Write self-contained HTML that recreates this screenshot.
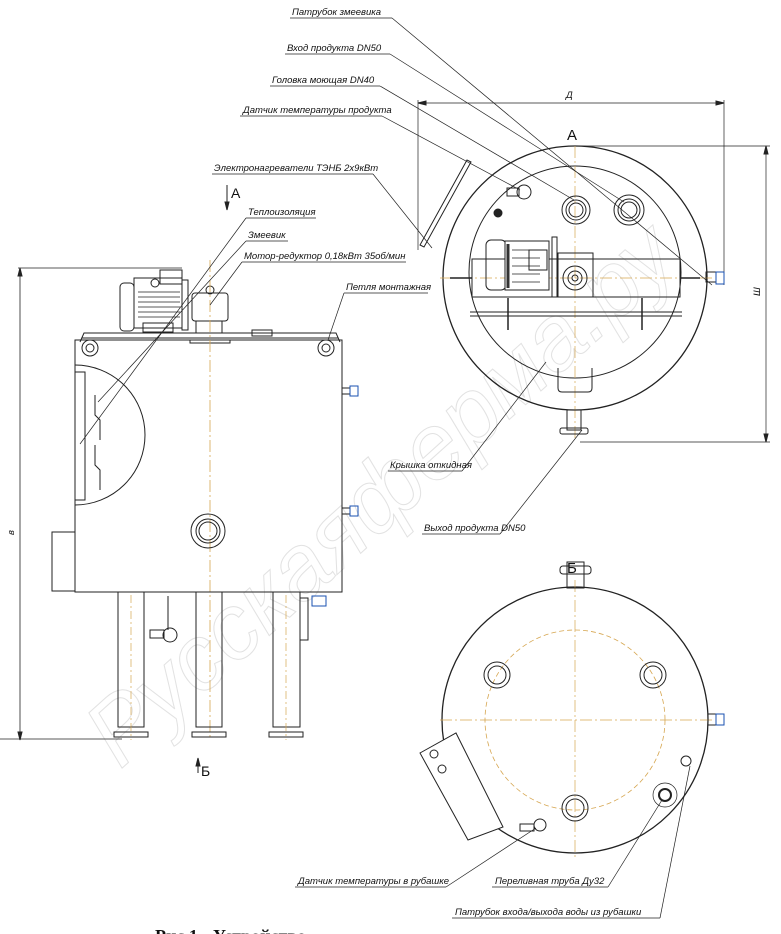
<!DOCTYPE html>
<html><head><meta charset="utf-8"><style>
html,body{margin:0;padding:0;background:#fff;}
svg{display:block;}
.l{font-family:"Liberation Sans",sans-serif;font-style:italic;font-size:9.5px;fill:#111;}
</style></head><body>
<svg width="781" height="934" viewBox="0 0 781 934" xmlns="http://www.w3.org/2000/svg" fill="none" stroke="#222" stroke-width="1">
<text x="120" y="770" transform="rotate(-42 120 770)" font-family="Liberation Sans,sans-serif" font-style="italic" font-size="92" stroke="#e2e2e2" stroke-width="1" fill="none">Русскаяферма.ру</text>

<line x1="20" y1="268" x2="20" y2="740" stroke-width="0.8"/>
<line x1="18" y1="268" x2="182" y2="268" stroke-width="0.7"/>
<line x1="0" y1="739" x2="122" y2="739" stroke-width="0.7"/>
<path d="M20 268 l-2 8 h4z M20 740 l-2 -8 h4z" fill="#222"/>
<text x="14" y="535" transform="rotate(-90 14 535)" class="l" stroke="none">в</text>

<rect x="75" y="340" width="267" height="252"/>
<path d="M80 342 L84 333 H336 L340 342" />
<line x1="82" y1="338" x2="338" y2="338"/>
<rect x="190" y="340" width="40" height="3"/>
<circle cx="90" cy="348" r="8"/><circle cx="90" cy="348" r="4"/>
<circle cx="326" cy="348" r="8"/><circle cx="326" cy="348" r="4"/>
<rect x="120" y="283" width="14" height="48" rx="4"/>
<rect x="134" y="278" width="48" height="50"/>
<g stroke-width="0.8"><line x1="138" y1="292" x2="180" y2="292"/><line x1="138" y1="297" x2="180" y2="297"/><line x1="138" y1="302" x2="180" y2="302"/><line x1="138" y1="307" x2="180" y2="307"/><line x1="138" y1="312" x2="180" y2="312"/><line x1="138" y1="317" x2="180" y2="317"/></g>
<rect x="160" y="270" width="22" height="14"/>
<circle cx="155" cy="283" r="4"/>
<rect x="182" y="280" width="6" height="50"/>
<rect x="192" y="293" width="36" height="28" rx="3"/>
<rect x="196" y="321" width="26" height="12"/>
<circle cx="210" cy="290" r="4"/>
<rect x="143" y="323" width="30" height="9"/>
<rect x="252" y="330" width="20" height="6"/>
<line x1="210" y1="260" x2="210" y2="740" stroke="#d6a650" stroke-dasharray="12 3 2 3" stroke-width="0.8"/>
<path d="M75 365 A70 70 0 0 1 75 505" />
<rect x="75" y="372" width="10" height="128"/>
<path d="M95 395 v20 l5 5 v20 M95 445 v20 l5 5 v20" />
<rect x="342" y="388" width="8" height="6"/><rect x="350" y="386" width="8" height="10" stroke="#1a50b0"/>
<rect x="342" y="508" width="8" height="6"/><rect x="350" y="506" width="8" height="10" stroke="#1a50b0"/>
<rect x="312" y="596" width="14" height="10" stroke="#1a50b0"/>
<circle cx="208" cy="531" r="17"/><circle cx="208" cy="531" r="12"/><circle cx="208" cy="531" r="9"/>
<rect x="52" y="532" width="23" height="59"/>
<rect x="118" y="592" width="26" height="135"/><rect x="114" y="732" width="34" height="5"/>
<rect x="196" y="592" width="26" height="135"/><rect x="192" y="732" width="34" height="5"/>
<rect x="273" y="592" width="27" height="135"/><rect x="269" y="732" width="34" height="5"/>
<g stroke="#d6a650" stroke-dasharray="8 3 2 3" stroke-width="0.7"><line x1="131" y1="595" x2="131" y2="740"/><line x1="286" y1="595" x2="286" y2="740"/></g>
<line x1="168" y1="596" x2="168" y2="630"/>
<circle cx="170" cy="635" r="7"/><rect x="150" y="630" width="14" height="8"/>
<rect x="300" y="598" width="8" height="42"/>
<line x1="227" y1="185" x2="227" y2="205"/><path d="M227 210 l-2 -8 h4z" fill="#222"/>
<text x="231" y="198" font-family="Liberation Sans,sans-serif" font-size="14" fill="#111" stroke="none">А</text>
<line x1="198" y1="773" x2="198" y2="762"/><path d="M198 758 l-2 8 h4z" fill="#222"/>
<text x="201" y="776" font-family="Liberation Sans,sans-serif" font-size="14" fill="#111" stroke="none">Б</text>

<line x1="418" y1="103" x2="724" y2="103" stroke-width="0.7"/>
<path d="M418 103 l8 -2 v4z M724 103 l-8 -2 v4z" fill="#222"/>
<line x1="418" y1="100" x2="418" y2="250" stroke-width="0.7"/>
<line x1="724" y1="100" x2="724" y2="285" stroke-width="0.7"/>
<text x="566" y="98" class="l" stroke="none">Д</text>
<line x1="766" y1="146" x2="766" y2="442" stroke-width="0.7"/>
<path d="M766 146 l-2 8 h4z M766 442 l-2 -8 h4z" fill="#222"/>
<line x1="580" y1="146" x2="770" y2="146" stroke-width="0.7"/>
<line x1="580" y1="442" x2="770" y2="442" stroke-width="0.7"/>
<text x="760" y="296" transform="rotate(-90 760 296)" class="l" stroke="none">Ш</text>
<text x="567" y="140" font-family="Liberation Sans,sans-serif" font-size="15" fill="#111" stroke="none">А</text>

<circle cx="575" cy="278" r="132" stroke-width="1.3"/>
<circle cx="575" cy="272" r="106"/>
<g stroke="#d6a650" stroke-dasharray="12 3 2 3" stroke-width="0.7"><line x1="575" y1="146" x2="575" y2="440"/><line x1="440" y1="278" x2="712" y2="278"/></g>
<rect x="472" y="259" width="208" height="38"/>
<line x1="470" y1="312" x2="682" y2="312"/><line x1="470" y1="316" x2="682" y2="316"/>
<line x1="508" y1="298" x2="508" y2="330" stroke-width="1.5"/><line x1="642" y1="298" x2="642" y2="330" stroke-width="1.5"/>
<rect x="486" y="240" width="20" height="50" rx="5"/>
<rect x="505" y="241" width="44" height="49" fill="#fff"/>
<line x1="508" y1="244" x2="508" y2="288" stroke="#333" stroke-width="3"/>
<g stroke-width="0.8"><line x1="512" y1="250" x2="540" y2="250"/><line x1="512" y1="258" x2="540" y2="258"/><line x1="512" y1="266" x2="540" y2="266"/><line x1="512" y1="274" x2="540" y2="274"/><line x1="512" y1="282" x2="540" y2="282"/></g>
<rect x="529" y="250" width="18" height="20"/>
<rect x="552" y="237" width="5" height="60"/>
<rect x="558" y="253" width="35" height="44"/>
<circle cx="575" cy="278" r="12"/><circle cx="575" cy="278" r="7"/><circle cx="575" cy="278" r="3"/>
<line x1="450" y1="278" x2="472" y2="278" stroke-width="1.5"/><line x1="680" y1="278" x2="700" y2="278" stroke-width="1.5"/>
<circle cx="576" cy="210" r="14"/><circle cx="576" cy="210" r="10"/><circle cx="576" cy="210" r="7"/>
<circle cx="629" cy="210" r="15"/><circle cx="629" cy="210" r="11"/><circle cx="629" cy="210" r="8"/>
<circle cx="524" cy="192" r="7"/><rect x="507" y="188" width="12" height="8"/>
<circle cx="498" cy="213" r="4" fill="#222"/>
<path d="M467 160 L420 245 L424 247 L471 162 z"/>
<rect x="706" y="272" width="10" height="10"/><rect x="716" y="272" width="8" height="12" stroke="#1a50b0"/>
<path d="M558 368 v20 q0 4 4 4 h26 q4 0 4 -4 v-20"/>
<rect x="567" y="410" width="14" height="20"/><rect x="560" y="428" width="28" height="6" rx="2"/>

<text x="567" y="573" font-family="Liberation Sans,sans-serif" font-size="15" fill="#111" stroke="none">Б</text>
<circle cx="575" cy="720" r="133" stroke-width="1.3"/>
<circle cx="575" cy="720" r="90" stroke="#d6a650" stroke-dasharray="5 3" stroke-width="0.8"/>
<g stroke="#d6a650" stroke-dasharray="12 3 2 3" stroke-width="0.7"><line x1="575" y1="580" x2="575" y2="860"/><line x1="440" y1="720" x2="712" y2="720"/></g>
<rect x="567" y="562" width="17" height="26"/><rect x="560" y="566" width="31" height="8" rx="3"/>
<rect x="708" y="714" width="8" height="11"/><rect x="716" y="714" width="8" height="11" stroke="#1a50b0"/>
<circle cx="497" cy="675" r="13"/><circle cx="497" cy="675" r="9"/>
<circle cx="653" cy="675" r="13"/><circle cx="653" cy="675" r="9"/>
<circle cx="575" cy="808" r="13"/><circle cx="575" cy="808" r="9"/>
<polygon points="420,753 456,733 503,827 468,840" fill="#fff"/>
<circle cx="434" cy="754" r="4"/><circle cx="442" cy="769" r="4"/>
<circle cx="540" cy="825" r="6"/><rect x="520" y="824" width="14" height="7"/>
<circle cx="665" cy="795" r="12" stroke-width="0.7"/><circle cx="665" cy="795" r="6" stroke-width="2"/>
<circle cx="686" cy="761" r="5"/>

<g stroke-width="0.7">
<line x1="290" y1="18" x2="392" y2="18"/><line x1="392" y1="18" x2="712" y2="285"/>
<line x1="285" y1="54" x2="390" y2="54"/><line x1="390" y1="54" x2="624" y2="202"/>
<line x1="270" y1="86" x2="380" y2="86"/><line x1="380" y1="86" x2="574" y2="200"/>
<line x1="240" y1="116" x2="382" y2="116"/><line x1="382" y1="116" x2="520" y2="190"/>
<line x1="212" y1="174" x2="373" y2="174"/><line x1="373" y1="174" x2="432" y2="248"/>
<line x1="246" y1="218" x2="316" y2="218"/><line x1="246" y1="218" x2="80" y2="444"/>
<line x1="246" y1="241" x2="288" y2="241"/><line x1="246" y1="241" x2="98" y2="402"/>
<line x1="242" y1="262" x2="406" y2="262"/><line x1="242" y1="262" x2="210" y2="305"/>
<line x1="344" y1="293" x2="428" y2="293"/><line x1="344" y1="293" x2="328" y2="340"/>
<line x1="388" y1="471" x2="462" y2="471"/><line x1="462" y1="471" x2="546" y2="362"/>
<line x1="422" y1="534" x2="500" y2="534"/><line x1="500" y1="534" x2="582" y2="430"/>
<line x1="295" y1="887" x2="446" y2="887"/><line x1="446" y1="887" x2="536" y2="828"/>
<line x1="492" y1="887" x2="608" y2="887"/><line x1="608" y1="887" x2="662" y2="800"/>
<line x1="452" y1="918" x2="660" y2="918"/><line x1="660" y1="918" x2="690" y2="766"/>
</g>
<g class="l" stroke="none">
<text x="292" y="15">Патрубок змеевика</text>
<text x="287" y="51">Вход продукта DN50</text>
<text x="272" y="83">Головка моющая DN40</text>
<text x="243" y="113">Датчик температуры продукта</text>
<text x="214" y="171">Электронагреватели ТЭНБ 2х9кВт</text>
<text x="248" y="215">Теплоизоляция</text>
<text x="248" y="238">Змеевик</text>
<text x="244" y="259">Мотор-редуктор 0,18кВт 35об/мин</text>
<text x="346" y="290">Петля монтажная</text>
<text x="390" y="468">Крышка откидная</text>
<text x="424" y="531">Выход продукта DN50</text>
<text x="298" y="884">Датчик температуры в рубашке</text>
<text x="495" y="884">Переливная труба Ду32</text>
<text x="455" y="915">Патрубок входа/выхода воды из рубашки</text>
</g>
<text x="155" y="942" font-family="Liberation Serif,serif" font-weight="bold" font-size="18" fill="#111" stroke="none">Рис.1 - Устройство</text>
</svg>
</body></html>
